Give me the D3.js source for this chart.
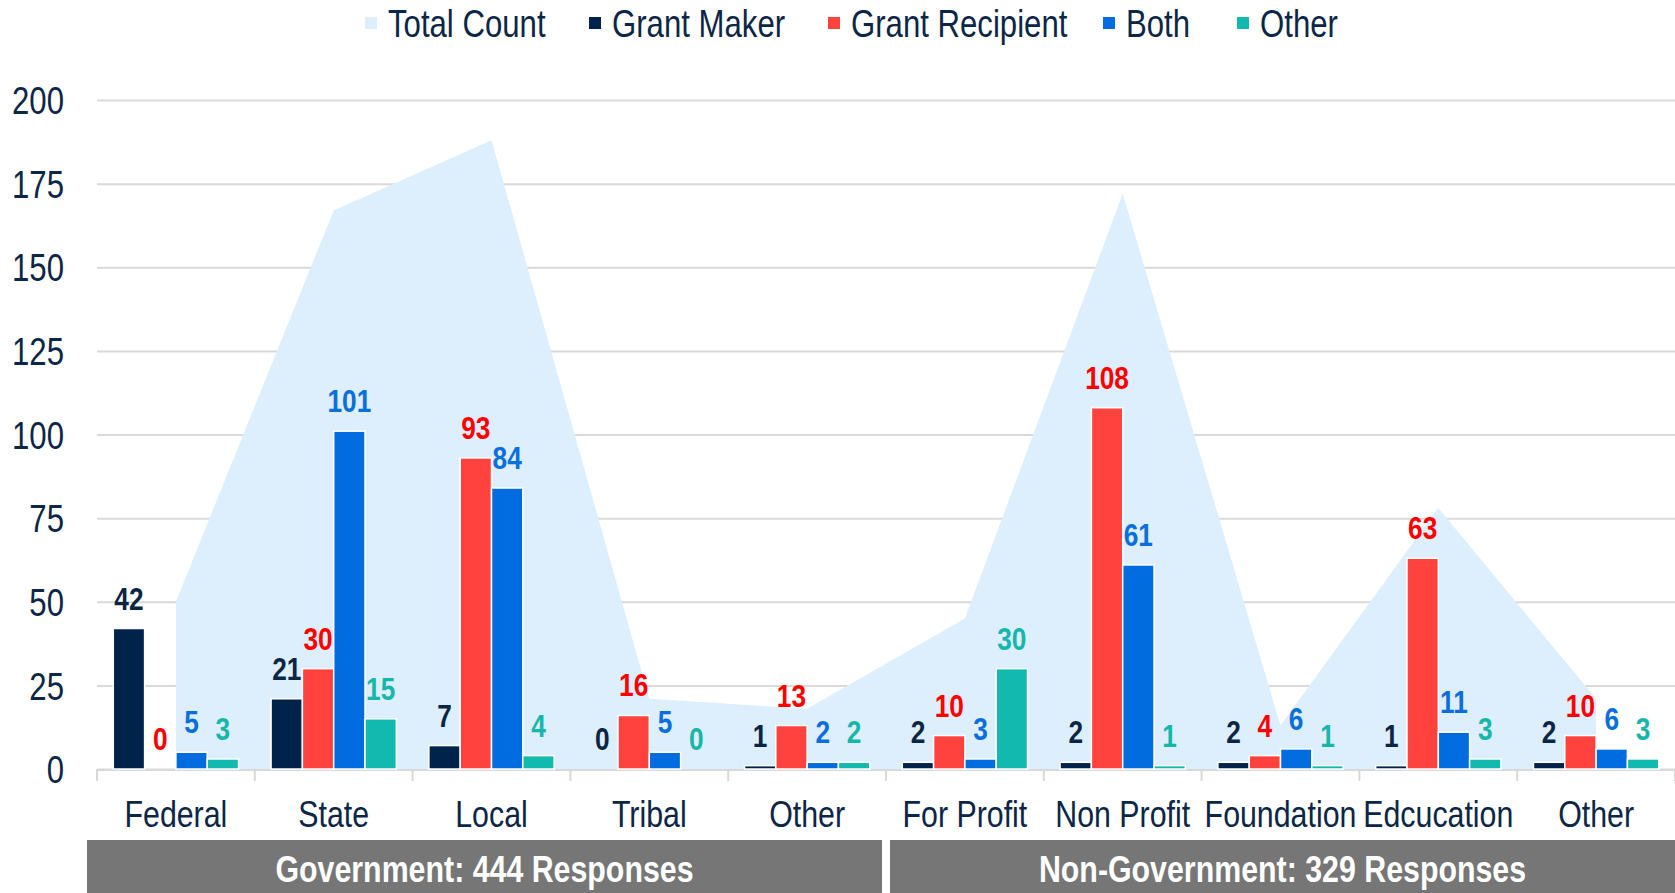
<!DOCTYPE html>
<html>
<head>
<meta charset="utf-8">
<script src="https://cdn.jsdelivr.net/npm/d3@7"></script>
<style>
  body { margin: 0; background: #fff; }
  svg { display: block; font-family: "Liberation Sans", Arial, sans-serif; }
</style>
</head>
<body>
<div id="chart"></div>
<script>
const categories = ["Federal", "State", "Local", "Tribal", "Other",
  "For Profit", "Non Profit", "Foundation", "Edcucation", "Other"];
const totalCount = [50, 167, 188, 21, 18, 45, 172, 13, 78, 21];
const grantMaker = [42, 21, 7, 0, 1, 2, 2, 2, 1, 2];
const grantRecipient = [0, 30, 93, 16, 13, 10, 108, 4, 63, 10];
const both = [5, 101, 84, 5, 2, 3, 61, 6, 11, 6];
const other = [3, 15, 4, 0, 2, 30, 1, 1, 3, 3];
const yTicks = [0, 25, 50, 75, 100, 125, 150, 175, 200];
const groupNames = ["Government: 444 Responses", "Non-Government: 329 Responses"];
const groupSpans = [[0, 5], [5, 10]]; // first and last+1 category index of each group

const series = [
  {name: "Grant Maker", values: grantMaker, fill: "#00234b", text: "#0b2545"},
  {name: "Grant Recipient", values: grantRecipient, fill: "#ff423d", text: "#ff0000"},
  {name: "Both", values: both, fill: "#006ce0", text: "#0a6fdc"},
  {name: "Other", values: other, fill: "#12b9af", text: "#17b6aa"}
];

const width = 1675, height = 893,
  margin = ({top: 100, right: 0, bottom: 124, left: 97});
const navy = "#0c2647";
const squeeze = 0.82; // no narrow font installed, so squeeze text horizontally

// place a text at (x, y) squeezed horizontally
const at = (px, py) => `translate(${px}, ${py}) scale(${squeeze}, 1)`;

const svg = d3.select("#chart")
  .append("svg")
  .attr("width", width)
  .attr("height", height)
  .attr("viewBox", [0, 0, width, height]);

const idx = d3.range(categories.length);

const x = d3.scaleBand() // one band per category
  .domain(idx)
  .range([margin.left, width - margin.right]);

const x1 = d3.scaleBand() // bars inside a band
  .domain(series.map(s => s.name))
  .range([0, x.bandwidth()])
  .paddingInner(0)
  .paddingOuter(0.52);

const y = d3.scaleLinear()
  .domain([0, 200])
  .range([height - margin.bottom, margin.top]);

// gridlines + tick labels
const yAxis = g => g
  .attr("transform", `translate(${margin.left}, 0)`)
  .call(d3.axisLeft(y).tickValues(yTicks).tickSize(-(width - margin.left - margin.right)))
  .call(g => g.select(".domain").remove())
  .call(g => g.selectAll(".tick line").attr("stroke", "#d9d9d9").attr("stroke-width", 2))
  .call(g => g.selectAll(".tick text").attr("fill", navy).attr("font-size", 38)
    .attr("font-family", "inherit").attr("x", 0).attr("dy", "0.36em")
    .attr("transform", at(-33, 0)));

svg.append("g").call(yAxis);

// total count area behind the bars
const area = d3.area()
  .x(i => x(i) + x.bandwidth() / 2)
  .y0(y(0))
  .y1(i => y(totalCount[i]));

svg.append("path")
  .datum(idx)
  .attr("fill", "#ddeefc")
  .attr("d", area);

// x axis line and ticks at band edges
const base = y(0);
svg.append("line")
  .attr("x1", margin.left).attr("x2", width)
  .attr("y1", base + 1).attr("y2", base + 1)
  .attr("stroke", "#d9d9d9").attr("stroke-width", 2);

svg.selectAll(".sep")
  .data(d3.range(categories.length + 1))
  .join("line")
  .attr("class", "sep")
  .attr("x1", i => margin.left + i * x.step())
  .attr("x2", i => margin.left + i * x.step())
  .attr("y1", base).attr("y2", base + 12)
  .attr("stroke", "#d9d9d9").attr("stroke-width", 2);

svg.selectAll(".cat")
  .data(idx)
  .join("text")
  .attr("class", "cat")
  .attr("transform", i => at(x(i) + x.bandwidth() / 2, 827))
  .attr("text-anchor", "middle")
  .attr("font-size", 37)
  .attr("fill", navy)
  .text(i => categories[i]);

// grouped bars
const groups = svg.selectAll(".grp")
  .data(series)
  .join("g")
  .attr("class", "grp");

groups.selectAll("rect")
  .data(s => s.values.map((v, i) => ({s, v, i})))
  .join("rect")
  .attr("x", d => x(d.i) + x1(d.s.name))
  .attr("width", x1.bandwidth())
  .attr("y", d => y(d.v))
  .attr("height", d => y(0) - y(d.v))
  .attr("fill", d => d.s.fill)
  .attr("stroke", "#fff")
  .attr("stroke-width", 1.5);

groups.selectAll("text")
  .data(s => s.values.map((v, i) => ({s, v, i})))
  .join("text")
  .attr("transform", d => at(x(d.i) + x1(d.s.name) + x1.bandwidth() / 2, y(d.v) - 19))
  .attr("text-anchor", "middle")
  .attr("font-size", 32)
  .attr("font-weight", "bold")
  .attr("fill", d => d.s.text)
  .text(d => d.v);

// group banners under the axis
const banner = svg.selectAll(".banner")
  .data(groupNames.map((n, k) => ({n, span: groupSpans[k], k})))
  .join("g")
  .attr("class", "banner");

const bx0 = d => d.k === 0 ? margin.left - 10 : margin.left + d.span[0] * x.step() + 4;
const bx1 = d => d.k === groupNames.length - 1 ? width : margin.left + d.span[1] * x.step() - 4;

banner.append("rect")
  .attr("x", bx0)
  .attr("width", d => bx1(d) - bx0(d))
  .attr("y", 840)
  .attr("height", height - 840)
  .attr("fill", "#767676");

banner.append("text")
  .attr("transform", d => at((bx0(d) + bx1(d)) / 2, 882))
  .attr("text-anchor", "middle")
  .attr("font-size", 37)
  .attr("font-weight", "bold")
  .attr("fill", "#fff")
  .text(d => d.n);

// legend
const legendItems = [{name: "Total Count", fill: "#ddeefc"}].concat(series);
const legendX = [365, 589, 828, 1103, 1237];

const leg = svg.selectAll(".leg")
  .data(legendItems)
  .join("g")
  .attr("class", "leg")
  .attr("transform", (d, i) => `translate(${legendX[i]}, 23)`);

leg.append("rect")
  .attr("x", 0).attr("y", -6)
  .attr("width", 12).attr("height", 12)
  .attr("fill", d => d.fill);

leg.append("text")
  .attr("transform", at(23, 0))
  .attr("dy", "0.36em")
  .attr("font-size", 38)
  .attr("fill", navy)
  .text(d => d.name);
</script>
</body>
</html>
